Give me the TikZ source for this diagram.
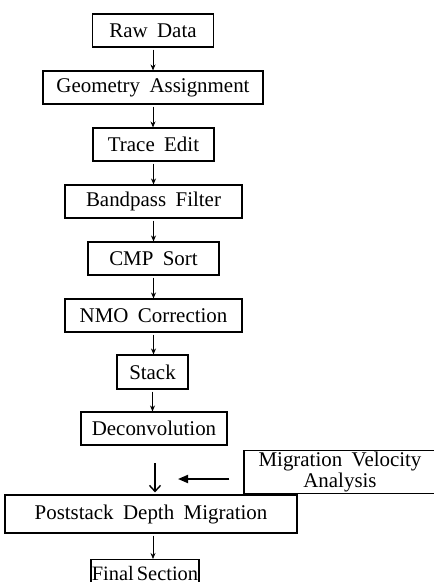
\documentclass[tikz,border=0pt]{standalone}
\usepackage{fontspec}
\setmainfont[WordSpace=1.8]{Liberation Serif}
\usetikzlibrary{arrows.meta}
\begin{document}
\begin{tikzpicture}[x=1bp,y=-1bp,
  stage/.style={draw,line width=1.1bp,inner sep=0pt,minimum height=33bp,
    font=\fontsize{21}{19}\selectfont,align=center},
  flow/.style={-{Stealth[length=6bp,width=5bp]},line width=0.8bp,shorten <=2bp},
  bigflow/.style={-{Straight Barb[length=6bp,width=11bp]},line width=1.4bp,shorten >=2bp},
  feedflow/.style={-{Triangle[length=10bp,width=8bp]},line width=1.8bp}]
\useasboundingbox (0,0) rectangle (434,582);
\clip (0,0) rectangle (434,582);

% processing stages
\node[stage,minimum width=121bp] (raw)   at (153,30.5)  {Raw Data};
\node[stage,minimum width=220bp] (geo)   at (153,87.5)  {Geometry Assignment};
\node[stage,minimum width=121bp] (trace) at (153.5,144.5) {Trace Edit};
\node[stage,minimum width=177bp] (band)  at (153.5,201.5) {Bandpass Filter};
\node[stage,minimum width=131bp] (cmp)   at (153.5,258.5) {CMP Sort};
\node[stage,minimum width=177bp] (nmo)   at (153.5,315.5) {NMO Correction};
\node[stage,minimum width=71bp,minimum height=34bp] (stack) at (152.5,372) {Stack};
\node[stage,minimum width=146bp] (decon) at (154,428.5) {Deconvolution};
\node[stage,minimum width=192bp,minimum height=43bp] (mva) at (340,472) {Migration Velocity\\Analysis};
\node[stage,minimum width=292bp,minimum height=38bp] (psdm) at (151,514) {Poststack Depth Migration};
\node[stage,minimum width=108bp,minimum height=29bp,font=\fontsize{20.5}{19}\selectfont]
  (final) at (145,574) {Final\hspace{3bp}Section};

% connectors
\draw[flow] (raw.south)   -- (raw.south |- geo.north);
\draw[flow] (geo.south)   -- (geo.south |- trace.north);
\draw[flow] (trace.south) -- (trace.south |- band.north);
\draw[flow] (band.south)  -- (band.south |- cmp.north);
\draw[flow] (cmp.south)   -- (cmp.south |- nmo.north);
\draw[flow] (nmo.south)   -- (nmo.south |- stack.north);
\draw[flow] (stack.south) -- (stack.south |- decon.north);
\coordinate (join) at (155,463);
\draw[bigflow] (join) -- (join |- psdm.north);
\coordinate (feed) at (178,479);
\draw[feedflow] ([shift={(-14,7)}]mva.west) -- (feed);
\draw[flow] (psdm.south) ++(2,0) coordinate (pout) -- (pout |- final.north);
\end{tikzpicture}
\end{document}
